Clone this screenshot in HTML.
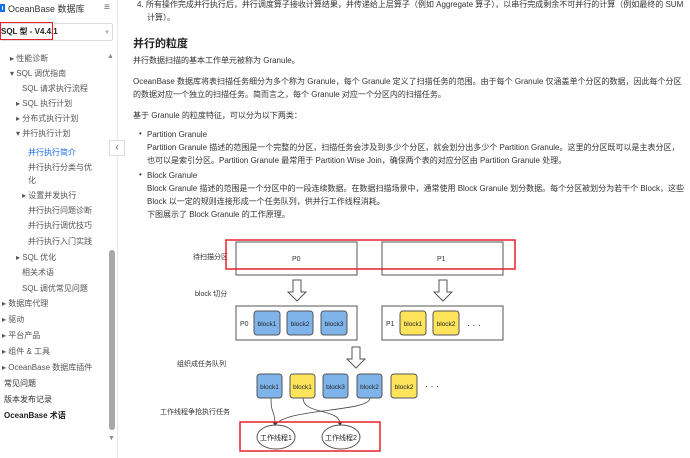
<!DOCTYPE html>
<html><head><meta charset="utf-8"><style>
*{margin:0;padding:0;box-sizing:border-box}
body{width:690px;height:458px;overflow:hidden;background:#fff;font-family:"Liberation Sans","Noto Sans CJK SC",sans-serif;color:#333;position:relative}
.t{position:absolute;white-space:nowrap;font-size:8px;line-height:10px}
.s{color:#555}
</style></head><body>
<!-- sidebar -->
<div style="position:absolute;left:0;top:0;width:118px;height:458px;border-right:1px solid #e8e8e8"></div>
<div class="t" style="left:0;top:4px;width:5px;height:8px;border:2px solid #1a6cf0"></div>
<div class="t" style="left:8px;top:4px;font-size:9px;color:#333">OceanBase 数据库</div>
<div class="t" style="left:104px;top:3px;font-size:10px;color:#666">≡</div>
<div style="position:absolute;left:0;top:23px;width:113px;height:18px;border:1px solid #ddd;border-radius:2px"></div>
<div class="t" style="left:1px;top:27px;font-weight:bold;color:#222">SQL 型 - V4.4.1</div>
<div class="t" style="left:104px;top:28px;color:#aaa;font-size:6px">▼</div>
<div style="position:absolute;left:0;top:22px;width:53px;height:18px;border:1.5px solid #e8202a"></div>
<div class="t" style="left:107px;top:52px;color:#888;font-size:7px">▲</div>
<div class="t s" style="left:10px;top:54px">▸ 性能诊断</div>
<div class="t s" style="left:10px;top:69px">▾ SQL 调优指南</div>
<div class="t s" style="left:22px;top:84px">SQL 请求执行流程</div>
<div class="t s" style="left:16px;top:99px">▸ SQL 执行计划</div>
<div class="t s" style="left:16px;top:114px">▸ 分布式执行计划</div>
<div class="t s" style="left:16px;top:129px">▾ 并行执行计划</div>
<div class="t" style="left:28px;top:148px;color:#1a6cf0">并行执行简介</div>
<div class="t s" style="left:28px;top:163px">并行执行分类与优</div>
<div class="t s" style="left:28px;top:176px">化</div>
<div class="t s" style="left:22px;top:191px">▸ 设置并发执行</div>
<div class="t s" style="left:28px;top:206px">并行执行问题诊断</div>
<div class="t s" style="left:28px;top:221px">并行执行调优技巧</div>
<div class="t s" style="left:28px;top:237px">并行执行入门实践</div>
<div class="t s" style="left:16px;top:253px">▸ SQL 优化</div>
<div class="t s" style="left:22px;top:268px">相关术语</div>
<div class="t s" style="left:22px;top:284px">SQL 调优常见问题</div>
<div class="t s" style="left:2px;top:299px">▸ 数据库代理</div>
<div class="t s" style="left:2px;top:315px">▸ 驱动</div>
<div class="t s" style="left:2px;top:331px">▸ 平台产品</div>
<div class="t s" style="left:2px;top:347px">▸ 组件 &amp; 工具</div>
<div class="t s" style="left:2px;top:363px">▸ OceanBase 数据库插件</div>
<div class="t" style="left:4px;top:379px;color:#333">常见问题</div>
<div class="t" style="left:4px;top:395px;color:#333">版本发布记录</div>
<div class="t" style="left:4px;top:411px;color:#222;font-weight:bold">OceanBase 术语</div>
<div style="position:absolute;left:109px;top:250px;width:6px;height:180px;background:#a8a8a8;border-radius:3px"></div>
<div class="t" style="left:108px;top:434px;color:#888;font-size:7px">▼</div>
<div style="position:absolute;left:109px;top:140px;width:16px;height:16px;border:1px solid #ddd;background:#fff;font-size:10px;line-height:14px;text-align:center;color:#555">‹</div>
<!-- main -->
<div class="t" style="left:137px;top:0px">4. 所有操作完成并行执行后，并行调度算子接收计算结果，并传递给上层算子（例如 Aggregate 算子），以串行完成剩余不可并行的计算（例如最终的 SUM</div>
<div class="t" style="left:147px;top:13px">计算）。</div>
<div class="t" style="left:133px;top:38px;font-size:11px;line-height:13px;font-weight:bold;color:#222">并行的粒度</div>
<div class="t" style="left:133px;top:56px">并行数据扫描的基本工作单元被称为 Granule。</div>
<div class="t" style="left:133px;top:77px">OceanBase 数据库将表扫描任务细分为多个称为 Granule，每个 Granule 定义了扫描任务的范围。由于每个 Granule 仅涵盖单个分区的数据，因此每个分区</div>
<div class="t" style="left:133px;top:90px">的数据对应一个独立的扫描任务。简而言之，每个 Granule 对应一个分区内的扫描任务。</div>
<div class="t" style="left:133px;top:111px">基于 Granule 的粒度特征，可以分为以下两类：</div>
<div class="t" style="left:139px;top:129px">•</div>
<div class="t" style="left:147px;top:130px">Partition Granule</div>
<div class="t" style="left:147px;top:143px">Partition Granule 描述的范围是一个完整的分区，扫描任务会涉及到多少个分区，就会划分出多少个 Partition Granule。这里的分区既可以是主表分区，</div>
<div class="t" style="left:147px;top:156px">也可以是索引分区。Partition Granule 最常用于 Partition Wise Join，确保两个表的对应分区由 Partition Granule 处理。</div>
<div class="t" style="left:139px;top:170px">•</div>
<div class="t" style="left:147px;top:171px">Block Granule</div>
<div class="t" style="left:147px;top:184px">Block Granule 描述的范围是一个分区中的一段连续数据。在数据扫描场景中，通常使用 Block Granule 划分数据。每个分区被划分为若干个 Block，这些</div>
<div class="t" style="left:147px;top:197px">Block 以一定的规则连接形成一个任务队列，供并行工作线程消耗。</div>
<div class="t" style="left:147px;top:210px">下图展示了 Block Granule 的工作原理。</div>
<svg style="position:absolute;left:0;top:0" width="690" height="458" font-family="Liberation Sans,Noto Sans CJK SC,sans-serif">
<defs><marker id="a" markerWidth="6" markerHeight="6" refX="3" refY="3" orient="auto"><path d="M0,0L6,3L0,6z" fill="#333"/></marker></defs>
<g fill="#fff" stroke="#555" stroke-width="1">
<rect x="236" y="242" width="121" height="33"/><rect x="382" y="242" width="121" height="33"/>
<rect x="236" y="306" width="121" height="34"/><rect x="382" y="306" width="121" height="34"/>
<path d="M293,280h8v12h5l-9,9l-9,-9h5z"/><path d="M439,280h8v12h5l-9,9l-9,-9h5z"/><path d="M352,347h8v12h5l-9,9l-9,-9h5z"/>
</g>
<g font-size="7" fill="#333">
<text x="292" y="261">P0</text><text x="437" y="261">P1</text>
<text x="240" y="326">P0</text><text x="386" y="326">P1</text>
<text x="193" y="259">待扫描分区</text><text x="195" y="296">block 切分</text>
<text x="177" y="366">组织成任务队列</text><text x="160" y="414">工作线程争抢执行任务</text>
<text x="467" y="328" font-size="9">· · ·</text><text x="425" y="389" font-size="9">· · ·</text>
</g>
<g stroke="#555" stroke-width="1" font-size="7">
<rect x="254" y="311" width="26" height="24" rx="3" fill="#7eb4ea"/><rect x="287" y="311" width="26" height="24" rx="3" fill="#7eb4ea"/><rect x="321" y="311" width="26" height="24" rx="3" fill="#7eb4ea"/>
<rect x="400" y="311" width="26" height="24" rx="3" fill="#fde45a"/><rect x="433" y="311" width="26" height="24" rx="3" fill="#fde45a"/>
<rect x="257" y="374" width="25" height="24" rx="3" fill="#7eb4ea"/><rect x="290" y="374" width="25" height="24" rx="3" fill="#fde45a"/><rect x="323" y="374" width="25" height="24" rx="3" fill="#7eb4ea"/><rect x="357" y="374" width="25" height="24" rx="3" fill="#7eb4ea"/><rect x="391" y="374" width="26" height="24" rx="3" fill="#fde45a"/>
</g>
<g font-size="6.5" fill="#222" text-anchor="middle">
<text x="267" y="326">block1</text><text x="300" y="326">block2</text><text x="334" y="326">block3</text>
<text x="413" y="326">block1</text><text x="446" y="326">block2</text>
<text x="269.5" y="389">block1</text><text x="302.5" y="389">block1</text><text x="335.5" y="389">block3</text><text x="369.5" y="389">block2</text><text x="404" y="389">block2</text>
</g>
<g fill="none" stroke="#444" stroke-width="0.8">
<path d="M271,398 C271,415 275,410 275,424" marker-end="url(#a)"/>
<path d="M303,398 C303,415 340,408 340,424" marker-end="url(#a)"/>
<path d="M370,398 C370,412 290,408 276,424"/>
</g>
<g fill="#fff" stroke="#555"><ellipse cx="276" cy="437" rx="19" ry="12"/><ellipse cx="341" cy="437" rx="19" ry="12"/></g>
<g font-size="7" fill="#222" text-anchor="middle"><text x="276" y="440">工作线程1</text><text x="341" y="440">工作线程2</text></g>
<g fill="none" stroke="#e8202a" stroke-width="1.5"><rect x="226" y="240" width="289" height="29"/><rect x="240" y="422" width="140" height="29"/></g>
</svg>
</body></html>
